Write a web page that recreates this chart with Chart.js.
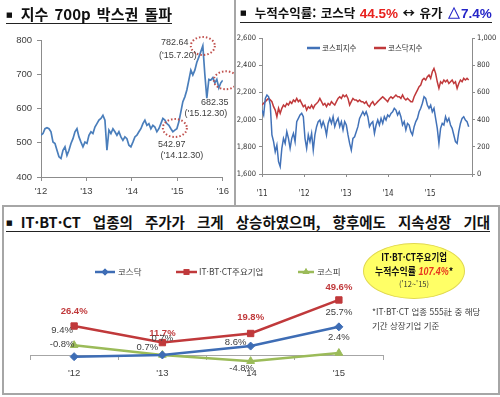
<!DOCTYPE html>
<html lang="ko">
<head>
<meta charset="UTF-8">
<title>코스닥 지수 및 업종 수익률</title>
<script src="https://cdn.jsdelivr.net/npm/chart.js"></script>
<style>
  body { margin: 0; background: #fff; font-family: 'Noto Sans CJK KR', sans-serif; }
  #wrap { position: relative; width: 500px; height: 397px; overflow: hidden; background: #fff; }
  canvas { position: absolute; }
  .title { position: absolute; font-weight: bold; color: #111; white-space: nowrap; border-bottom: 1.6px solid #222; }
  .bul { font-family: 'DejaVu Sans', sans-serif; font-size: 7px; vertical-align: 3px; margin-right: 8px; }
  .line { position: absolute; background: #a6a6a6; }
  #box { position: absolute; left: 2px; top: 205px; width: 494px; height: 186px; border: 2px solid #a6a6a6; }
  #bubble { position: absolute; left: 363px; top: 243px; width: 100px; height: 54px; border-radius: 50%;
            background: #ffff66; border: 1px solid #e0d850; text-align: center; color: #111; }
  #bubble div { position: absolute; left: 0; width: 100%; white-space: nowrap; line-height: 1; }
  .note { position: absolute; left: 372px; font-size: 8.5px; color: #404040; white-space: nowrap; line-height: 1; }
</style>
</head>
<body>
<div id="wrap">
  <div class="line" style="left:234px; top:0; width:2px; height:206px;"></div>
  <div id="box"></div>

  <canvas id="kqChart" width="234" height="200" style="left:0; top:0;"></canvas>
  <canvas id="pairChart" width="264" height="200" style="left:236px; top:0;"></canvas>
  <canvas id="retChart" width="493" height="160" style="left:4px; top:232px;"></canvas>

  <div class="title" style="left:6px; top:6px; font-size:15px; line-height:16px; word-spacing:2px;"><span class="bul">■</span>지수 700p 박스권 돌파</div>
  <div class="title" style="left:240px; top:5px; font-size:12.5px; line-height:15px; padding-bottom:1px; word-spacing:1px;"><span class="bul">■</span>누적수익률: 코스닥 <span style="color:#e8211e; font-family:'Liberation Sans',sans-serif; font-size:13.5px;">44.5%</span> ↔ 유가 <span style="color:#2424c8; font-family:'Liberation Sans',sans-serif; font-size:13.5px;">△7.4%</span></div>
  <div class="title" style="left:6px; top:214px; font-size:14.5px; line-height:16px; word-spacing:8px;"><span class="bul">■</span>IT·BT·CT 업종의 주가가 크게 상승하였으며, 향후에도 지속성장 기대</div>

  <div id="bubble">
    <div style="top:8px; font-size:10.5px; font-weight:bold;"><span style="display:inline-block; transform:scaleX(0.8);">IT·BT·CT주요기업</span></div>
    <div style="top:22px; font-size:10.5px; font-weight:bold;"><span style="display:inline-block; transform:scaleX(0.85);">누적수익률 <span style="color:#e8361e; font-style:italic; font-family:'Liberation Sans',sans-serif;">107.4%</span>*</span></div>
    <div style="top:36px; font-size:7.5px; color:#333;">('12~'15)</div>
  </div>
  <div class="note" style="top:307px;">*IT·BT·CT 업종 555社 중 해당</div>
  <div class="note" style="top:321px;">기간 상장기업 기준</div>
</div>

<script>
// ---------- left chart: 코스닥 지수 ('12 ~ '15, 반월 간격)
const kqYears = ["'12", "'13", "'14", "'15", "'16"];
const kqTicks = [0, 22.75, 45.5, 68.25, 91];
const kosdaq = [
  522, 527, 541, 544, 541, 532, 502, 498, 478, 459,
  454, 478, 488, 463, 478, 498, 512, 532, 541, 517,
  502, 488, 502, 498, 522, 532, 527, 546, 556, 566,
  571, 580, 566, 478, 537, 527, 541, 532, 522, 532,
  517, 507, 517, 512, 493, 488, 502, 517, 522, 532,
  541, 556, 566, 551, 556, 541, 551, 546, 532, 541,
  556, 571, 566, 556, 551, 541, 532, 537, 541, 561,
  590, 620, 634, 654, 683, 712, 698, 712, 735, 750,
  766, 783, 700, 630, 685, 683, 690, 675, 685, 660,
  675, 682
];
const markIndex = [81, 92.5, 67];
const markValue = [782.64, 682.35, 542.97];
const markDate = ["('15.7.20)", "('15.12.30)", "('14.12.30)"];

// ---------- right chart: 코스피 / 코스닥 지수 ('11 ~ '15)
const pairYears = ["'11", "'12", "'13", "'14", "'15", ""];
const pairTicks = [0, 25.4, 50.8, 76.2, 101.6, 127];
const pairNames = ['코스피지수', '코스닥지수'];
const kospiLine = [
  2070, 2034, 2156, 2181, 2168, 2107, 1887, 1838, 1764, 1813,
  1691, 1654, 1789, 1862, 1825, 1911, 1862, 1789, 1862, 1899,
  1838, 1985, 2009, 2034, 2046, 2021, 1862, 1789, 1887, 1838,
  1899, 1776, 1887, 1948, 1985, 1997, 1948, 1985, 1948, 1887,
  1972, 2009, 1972, 2021, 1948, 1985, 2009, 1948, 1985, 1924,
  1985, 1960, 1887, 1825, 1776, 1862, 1874, 1911, 1948, 2009,
  2034, 2058, 2034, 2058, 2021,
  1948, 1972, 1985, 1899, 1960, 1997, 1960, 2009, 1972, 2021,
  1997, 2034, 2021, 2046, 2058, 2083, 2070, 2034, 2058, 2021,
  1960, 1985, 1924, 1972, 1960, 1911, 1887, 1948, 1985, 2009,
  2058, 2083, 2120, 2168, 2156, 2107, 2083, 2107, 2058, 2083,
  2009, 1936, 1825, 1936, 1972, 1960, 2021, 1985, 2009, 1960,
  1936, 1887, 1838, 1825, 1911, 1972, 2009, 2021, 1997, 1985,
  1948
];
const kosdaqLine = [
  507, 520, 532, 545, 556, 545, 532, 495, 470, 421,
  483, 446, 483, 507, 495, 519, 507, 532, 519, 544,
  532, 556, 532, 544, 519, 495, 507, 470, 495, 483,
  507, 483, 507, 519, 532, 556, 532, 507, 519, 495,
  519, 507, 532, 519, 507, 532, 556, 568, 556, 581,
  568, 581, 556, 507, 532, 556, 544, 544, 532, 544,
  532, 532, 519, 532, 507,
  495, 519, 532, 507, 519, 532, 544, 556, 568, 556,
  544, 532, 556, 568, 556, 568, 581, 568, 568, 556,
  581, 556, 544, 556, 544, 532, 532, 568, 593, 617,
  642, 654, 691, 703, 691, 715, 727, 703, 752, 776,
  740, 678, 630, 678, 666, 691, 678, 691, 666, 678,
  691, 666, 678, 630, 666, 691, 678, 703, 691, 703,
  691
];

// ---------- bottom chart: 연간 수익률 (%)
const retYears = ["'12", "'13", "'14", "'15"];
const retNames = ['코스닥', 'IT·BT·CT주요기업', '코스피'];
const kosdaqRet = [-0.8, 0.7, 8.6, 25.7];
const itRet = [26.4, 11.7, 19.8, 49.6];
const kospiRet = [9.4, 0.7, -4.8, 2.4];

const NUM = "'Liberation Sans', 'Noto Sans CJK KR', sans-serif";
const NARROW = "'Liberation Sans Narrow', 'DejaVu Sans Condensed', 'Liberation Sans', sans-serif";
const KR = "'Noto Sans CJK KR', sans-serif";
const AXIS = '#8c8c8c';

// dotted circles + value labels on the left chart
const markPlugin = {
  id: 'marks',
  afterDatasetsDraw(chart) {
    const { ctx, scales: { x, y } } = chart;
    const txt = [[-28, -3, -25, 10], [-11, 22, -20, 33], [-3, 16, 7, 27]];
    ctx.save();
    markIndex.forEach((idx, i) => {
      const cx = x.getPixelForValue(idx), cy = y.getPixelForValue(markValue[i]);
      ctx.strokeStyle = '#c0504d';
      ctx.lineWidth = 2;
      ctx.setLineDash([1.5, 2]);
      ctx.beginPath();
      ctx.ellipse(cx, cy, 12, 9, 0, 0, Math.PI * 2);
      ctx.stroke();
      ctx.setLineDash([]);
      ctx.fillStyle = '#404040';
      ctx.font = '9px ' + NUM;
      ctx.textAlign = 'center';
      ctx.textBaseline = 'middle';
      ctx.fillText(markValue[i].toFixed(2), cx + txt[i][0], cy + txt[i][1]);
      ctx.fillText(markDate[i], cx + txt[i][2], cy + txt[i][3]);
    });
    ctx.restore();
  }
};

new Chart(document.getElementById('kqChart'), {
  type: 'line',
  data: {
    datasets: [{
      data: kosdaq.map((v, i) => ({ x: i, y: v })),
      borderColor: '#4a7ebb', borderWidth: 1.7, pointRadius: 0, tension: 0
    }]
  },
  options: {
    responsive: false, animation: false,
    layout: { padding: { top: 40, right: 11, bottom: 0, left: 0 } },
    plugins: { legend: { display: false }, tooltip: { enabled: false } },
    scales: {
      x: {
        type: 'linear', min: 0, max: 91,
        afterBuildTicks: s => { s.ticks = kqTicks.map(v => ({ value: v })); },
        afterFit: s => { s.height = 23; },
        ticks: { callback: (v, i) => kqYears[i], autoSkip: false, maxRotation: 0, padding: 5, color: '#404040', font: { family: NUM, size: 9.5 } },
        grid: { drawOnChartArea: false, tickLength: 4, color: AXIS },
        border: { color: AXIS }
      },
      y: {
        min: 400, max: 800,
        afterFit: s => { s.width = 41; },
        ticks: { stepSize: 100, padding: 5, color: '#404040', font: { family: NUM, size: 9.5 } },
        grid: { drawOnChartArea: false, tickLength: 4, color: AXIS },
        border: { color: AXIS }
      }
    }
  },
  plugins: [markPlugin]
});

// legend for the right chart
const pairLegend = {
  id: 'pairLegend',
  afterDraw(chart) {
    const { ctx } = chart;
    const pos = [[71, 84, 86], [138, 150, 152]];
    ctx.save();
    chart.data.datasets.forEach((d, i) => {
      const [a, b, t] = pos[i];
      ctx.strokeStyle = d.borderColor;
      ctx.lineWidth = 2.5;
      ctx.beginPath(); ctx.moveTo(a, 48); ctx.lineTo(b, 48); ctx.stroke();
      ctx.fillStyle = '#333';
      ctx.font = '7.5px ' + KR;
      ctx.textAlign = 'left';
      ctx.textBaseline = 'middle';
      ctx.fillText(d.label, t, 48);
    });
    ctx.restore();
  }
};

new Chart(document.getElementById('pairChart'), {
  type: 'line',
  data: {
    datasets: [
      { label: pairNames[0], yAxisID: 'y', data: kospiLine.map((v, i) => ({ x: i, y: v })),
        borderColor: '#4272b8', borderWidth: 1.5, pointRadius: 0, tension: 0 },
      { label: pairNames[1], yAxisID: 'y1', data: kosdaqLine.map((v, i) => ({ x: i, y: v })),
        borderColor: '#c0393b', borderWidth: 1.5, pointRadius: 0, tension: 0 }
    ]
  },
  options: {
    responsive: false, animation: false,
    layout: { padding: { top: 38, right: 0, bottom: 0, left: 0 } },
    plugins: { legend: { display: false }, tooltip: { enabled: false } },
    scales: {
      x: {
        type: 'linear', min: 0, max: 127,
        afterBuildTicks: s => { s.ticks = pairTicks.map(v => ({ value: v })); },
        afterFit: s => { s.height = 26; },
        ticks: { callback: (v, i) => pairYears[i], autoSkip: false, maxRotation: 0, padding: 12, color: '#333', font: { family: NARROW, size: 8 } },
        grid: { drawOnChartArea: false, tickLength: 3, color: AXIS },
        border: { color: AXIS }
      },
      y: {
        position: 'left', min: 1600, max: 2600,
        afterFit: s => { s.width = 26; },
        ticks: { stepSize: 200, padding: 3, color: '#333', font: { family: NARROW, size: 7.5 },
                 callback: v => v.toLocaleString('en-US') },
        grid: { drawOnChartArea: false, tickLength: 3, color: AXIS },
        border: { color: AXIS }
      },
      y1: {
        position: 'right', min: 0, max: 1000,
        afterFit: s => { s.width = 28; },
        ticks: { stepSize: 200, padding: 2, color: '#333', font: { family: NARROW, size: 7.5 },
                 callback: v => v.toLocaleString('en-US') },
        grid: { drawOnChartArea: false, tickLength: 3, color: AXIS },
        border: { color: AXIS }
      }
    }
  },
  plugins: [pairLegend]
});

// value labels + legend for the bottom chart
const labelOffsets = [
  [[-12, -12], [-15, -8], [-15, -4], [0, -14]],
  [[0, -15], [0, -9], [0, -16], [0, -13]],
  [[-12, -15], [0, -17], [-9, 7], [0, -16]]
];
const retPlugin = {
  id: 'retLabels',
  afterDatasetsDraw(chart) {
    const { ctx } = chart;
    ctx.save();
    ctx.textAlign = 'center';
    ctx.textBaseline = 'middle';
    chart.data.datasets.forEach((d, di) => {
      const meta = chart.getDatasetMeta(di);
      meta.data.forEach((pt, i) => {
        const off = labelOffsets[di][i];
        const hot = di === 1;
        ctx.fillStyle = hot ? '#c0393b' : '#404040';
        ctx.font = (hot ? 'bold ' : '') + '9.5px ' + NUM;
        ctx.fillText(d.data[i].toFixed(1) + '%', pt.x + off[0], pt.y + off[1]);
      });
    });
    // legend
    const pos = [[91, 111, 114], [172, 193, 195], [294, 310, 313]];
    chart.data.datasets.forEach((d, di) => {
      const [a, b, t] = pos[di];
      const y = 40;
      ctx.strokeStyle = d.borderColor;
      ctx.lineWidth = 2.5;
      ctx.beginPath(); ctx.moveTo(a, y); ctx.lineTo(b, y); ctx.stroke();
      ctx.fillStyle = d.borderColor;
      ctx.beginPath();
      Chart.helpers.drawPoint(ctx, { pointStyle: d.pointStyle, rotation: 0, radius: d.pointRadius - 0.5, borderWidth: 0 }, (a + b) / 2, y);
      ctx.fill();
      ctx.fillStyle = '#404040';
      ctx.font = '8.5px ' + KR;
      ctx.textAlign = 'left';
      ctx.fillText(d.label, t, y);
    });
    ctx.restore();
  }
};

const retSet = (label, data, color, style, r) => ({
  label, data, borderColor: color, backgroundColor: color, borderWidth: 2.5,
  pointStyle: style, pointRadius: r, pointBorderWidth: 1, tension: 0
});

new Chart(document.getElementById('retChart'), {
  type: 'line',
  data: {
    labels: retYears,
    datasets: [
      retSet(retNames[0], kosdaqRet, '#3e6db5', 'rectRot', 4),
      retSet(retNames[1], itRet, '#c0393b', 'rect', 4.5),
      retSet(retNames[2], kospiRet, '#9bbb59', 'triangle', 4.5)
    ]
  },
  options: {
    responsive: false, animation: false,
    layout: { padding: { top: 45, right: 114, bottom: 25, left: 26 } },
    plugins: { legend: { display: false }, tooltip: { enabled: false } },
    scales: {
      x: {
        type: 'category', offset: true, position: { y: 0 },
        ticks: { padding: 8, color: '#404040', font: { family: NUM, size: 9.5 } },
        grid: { offset: true, drawOnChartArea: false, tickLength: 4, color: '#a6a6a6' },
        border: { color: '#a6a6a6' }
      },
      y: { display: false, min: -10, max: 70 }
    }
  },
  plugins: [retPlugin]
});
</script>
</body>
</html>
